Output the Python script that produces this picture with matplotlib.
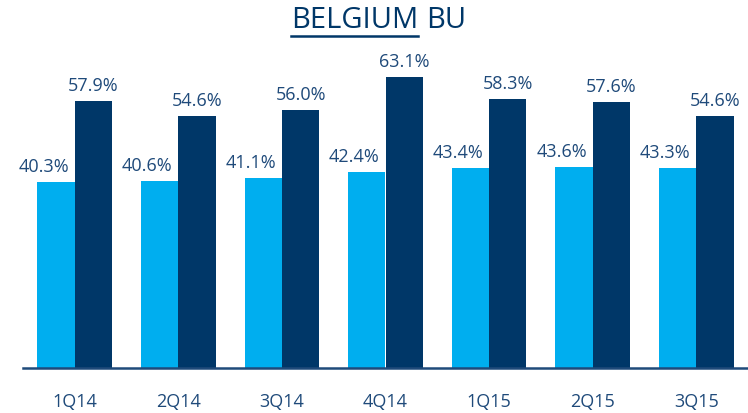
import matplotlib.pyplot as plt
import numpy as np

# data
quarters = ['1Q14', '2Q14', '3Q14', '4Q14', '1Q15', '2Q15', '3Q15']
light_vals = [40.3, 40.6, 41.1, 42.4, 43.4, 43.6, 43.3]
dark_vals = [57.9, 54.6, 56.0, 63.1, 58.3, 57.6, 54.6]

light_col = '#00AEEF'
dark_col = '#003768'
text_col = '#1F4A7A'

plt.rcParams['font.family'] = ['Open Sans', 'DejaVu Sans']

fig = plt.figure(figsize=(7.48, 4.14), dpi=100)
ax = fig.add_axes([23 / 748, 1 - 369 / 414, 725 / 748, 323 / 414])

x = np.arange(len(quarters))
w = 0.36
ax.bar(x - w / 2, light_vals, w, color=light_col)
ax.bar(x + w / 2, dark_vals, w, color=dark_col)

for i in range(len(quarters)):
    ax.annotate(f'{light_vals[i]:.1f}%', (x[i] - w / 2, light_vals[i]), xytext=(-9, 5),
                textcoords='offset points', ha='center', va='bottom', fontsize=13, color=text_col)
    ax.annotate(f'{dark_vals[i]:.1f}%', (x[i] + w / 2, dark_vals[i]), xytext=(0, 5),
                textcoords='offset points', ha='center', va='bottom', fontsize=13, color=text_col)

ax.set_xlim(-0.5, len(quarters) - 0.5)
ax.set_ylim(0, 70)
ax.set_xticks(x)
ax.set_xticklabels(quarters, fontsize=13, color=text_col)
ax.tick_params(axis='x', length=0, pad=17)
ax.set_yticks([])
for s in ['top', 'right', 'left']:
    ax.spines[s].set_visible(False)
ax.spines['bottom'].set_color('#1F4A7A')
ax.spines['bottom'].set_linewidth(1.8)

# title with underlined first word
t1 = fig.text(418 / 748, 1 - 21 / 414, 'BELGIUM', ha='right', va='center', fontsize=21, color=dark_col)
t2 = fig.text(426 / 748, 1 - 21 / 414, 'BU', ha='left', va='center', fontsize=21, color=dark_col)
fig.canvas.draw()
bb = t1.get_window_extent().transformed(fig.transFigure.inverted())
fig.add_artist(plt.Line2D([bb.x0, bb.x1], [1 - 37 / 414, 1 - 37 / 414], color=dark_col, lw=1.8,
                          transform=fig.transFigure))

fig.savefig('out.png', dpi=100)
